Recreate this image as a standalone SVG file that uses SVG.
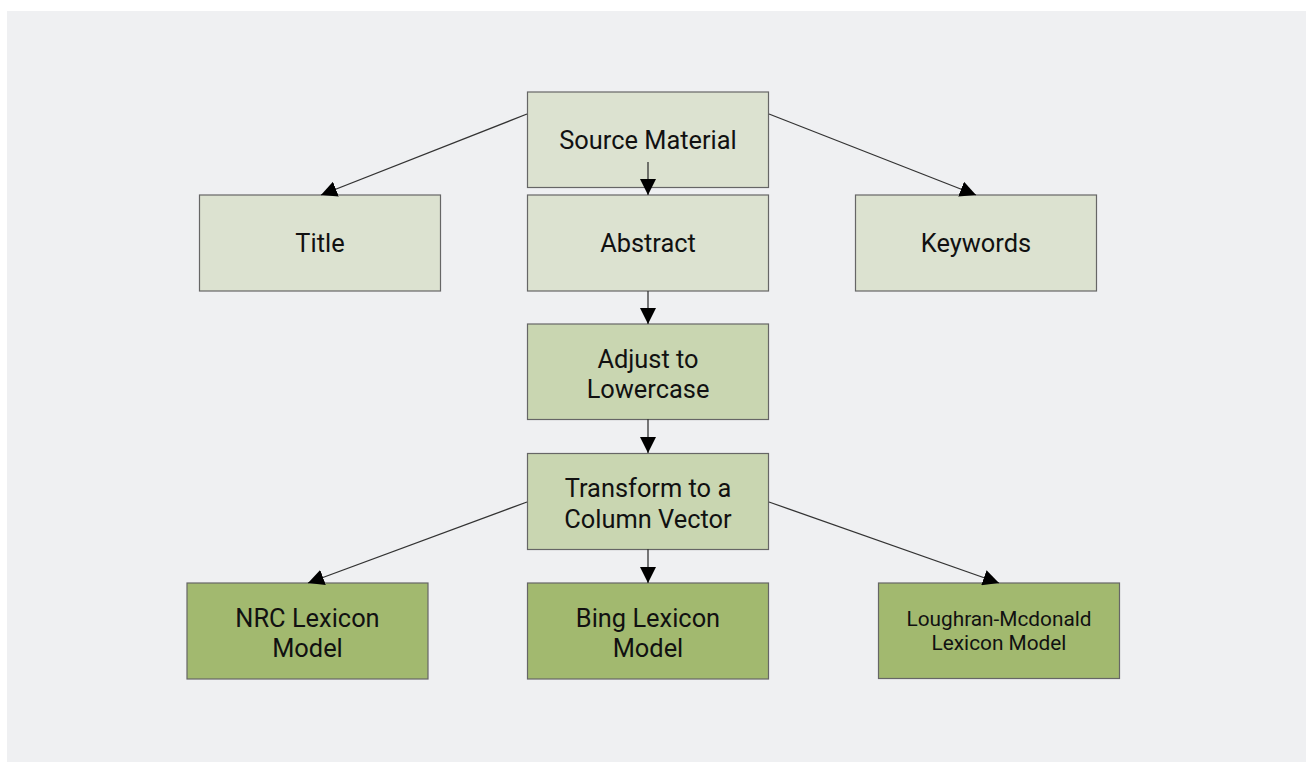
<svg xmlns="http://www.w3.org/2000/svg" width="1306" height="762" viewBox="0 0 1306 762">
<style>
.bg{fill:#eff0f2}
.n rect{stroke:#666;stroke-width:1.2}
.l1 rect{fill:#dce2d0}
.l2 rect{fill:#c9d6b1}
.l3 rect{fill:#a2b96f}
text{font-family:Roboto,"Liberation Sans",sans-serif;font-size:25.4px;fill:#111;text-anchor:middle}
.sm{font-size:20.8px}
.e line{stroke:#333;stroke-width:1.3;fill:none;marker-end:url(#ah)}
</style>
<defs>
<marker id="ah" markerUnits="userSpaceOnUse" markerWidth="16" markerHeight="16" refX="15" refY="7.5" orient="auto" viewBox="0 0 15 15">
<path d="M0,0 L15,7.5 L0,15 z" fill="#000"/>
</marker>
</defs>
<rect class="bg" x="7" y="11" width="1299" height="751"/>
<g id="source" class="n l1"><rect x="527.5" y="92" width="241" height="95.5"/><text x="648" y="148.5">Source Material</text></g>
<g id="title" class="n l1"><rect x="199.5" y="195" width="241" height="96"/><text x="320" y="251.7">Title</text></g>
<g id="abstract" class="n l1"><rect x="527.5" y="195" width="241" height="96"/><text x="648" y="251.7">Abstract</text></g>
<g id="keywords" class="n l1"><rect x="855.5" y="195" width="241" height="96"/><text x="976" y="251.7">Keywords</text></g>
<g id="lowercase" class="n l2"><rect x="527.5" y="324" width="241" height="95.5"/><text x="648" y="367.5">Adjust to</text><text x="648" y="398">Lowercase</text></g>
<g id="vector" class="n l2"><rect x="527.5" y="453.5" width="241" height="96"/><text x="648" y="497">Transform to a</text><text x="648" y="527.5">Column Vector</text></g>
<g id="nrc" class="n l3"><rect x="187" y="583" width="241" height="96"/><text x="307.5" y="626.7">NRC Lexicon</text><text x="307.5" y="657.3">Model</text></g>
<g id="bing" class="n l3"><rect x="527.5" y="583" width="241" height="96"/><text x="648" y="626.7">Bing Lexicon</text><text x="648" y="657.3">Model</text></g>
<g id="lm" class="n l3"><rect x="878.5" y="583" width="241" height="95.5"/><text class="sm" x="999" y="625.7">Loughran-Mcdonald</text><text class="sm" x="999" y="650">Lexicon Model</text></g>
<g id="edges" class="e">
<line x1="527" y1="114" x2="321" y2="195"/>
<line x1="769" y1="114" x2="976" y2="195"/>
<line x1="648" y1="162" x2="648" y2="195"/>
<line x1="648" y1="291" x2="648" y2="324"/>
<line x1="648" y1="419" x2="648" y2="453"/>
<line x1="648" y1="549" x2="648" y2="583"/>
<line x1="527" y1="502" x2="308" y2="583"/>
<line x1="769" y1="502" x2="999" y2="583"/>
</g>
</svg>
